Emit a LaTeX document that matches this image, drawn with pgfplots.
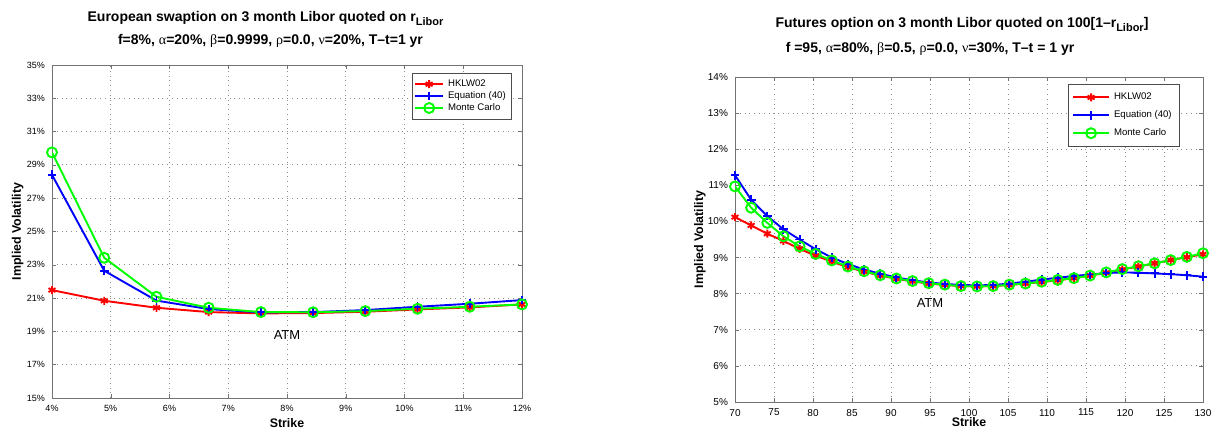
\documentclass[border=0pt]{standalone}
\usepackage{fontspec}
\setmainfont{Liberation Sans}
\newfontfamily\grk{Liberation Serif}
\usepackage{pgfplots}
\pgfplotsset{compat=1.18}

% MATLAB-like look shared by both panels
\newcommand{\labfont}{\bfseries\fontsize{6.2}{7}\selectfont}
\pgfplotsset{
  matlab/.style={
    scale only axis,
    axis line style={black!55},
    tick style={black!55},
    major tick length=2pt,
    tick align=inside,
    grid=major,
    major grid style={dotted, black!45},
    /pgf/number format/assume math mode=true,
    legend cell align=left,
    legend style={draw=black!70, fill=white, inner sep=1pt,
      font=\fontsize{4.8}{5.5}\selectfont, anchor=north east},
  },
  hk/.style={red, line width=0.95pt, mark=asterisk, mark size=2pt, mark options={solid}},
  eq/.style={blue, line width=0.95pt, mark=+, mark size=2.2pt, mark options={solid}},
  mc/.style={green, line width=0.95pt, mark=o, mark size=2.5pt, mark options={solid}},
}

\begin{document}
\begin{tikzpicture}

% ---- left: European swaption
\begin{axis}[matlab,
  at={(26pt,17pt)}, anchor=south west,
  width=235pt, height=166.5pt,
  xmin=4, xmax=12, ymin=15, ymax=35,
  xtick={4,...,12}, ytick={15,17,...,35},
  xticklabel={\pgfmathprintnumber{\tick}\%},
  yticklabel={\pgfmathprintnumber{\tick}\%},
  tick label style={font=\fontsize{4.5}{5}\selectfont},
  xlabel={Strike}, ylabel={Implied Volatility},
  every axis x label/.style={at={(axis description cs:0.5,-0.075)}, anchor=center, font=\labfont},
  every axis y label/.style={at={(axis description cs:-0.073,0.5)}, rotate=90, anchor=center, font=\labfont},
  legend style={at={(0.979,0.976)}, row sep=-3pt},
  legend image code/.code={\draw[mark repeat=2,mark phase=2] plot coordinates {(0pt,0pt) (7pt,0pt) (14pt,0pt)};},
]
\addplot[hk] coordinates {(4,21.48) (4.889,20.84) (5.778,20.42) (6.667,20.16) (7.556,20.08) (8.444,20.10) (9.333,20.18) (10.222,20.32) (11.111,20.44) (12,20.62)};
\addplot[eq] coordinates {(4,28.4) (4.889,22.64) (5.778,20.85) (6.667,20.34) (7.556,20.14) (8.444,20.16) (9.333,20.28) (10.222,20.48) (11.111,20.66) (12,20.88)};
\addplot[mc] coordinates {(4,29.75) (4.889,23.42) (5.778,21.08) (6.667,20.42) (7.556,20.16) (8.444,20.15) (9.333,20.22) (10.222,20.36) (11.111,20.48) (12,20.62)};
\legend{HKLW02, Equation (40), Monte Carlo}
\node[font=\fontsize{6.5}{7}\selectfont] at (axis cs:8,18.8) {ATM};
\end{axis}

% ---- right: futures option
\begin{axis}[matlab,
  at={(367.5pt,15pt)}, anchor=south west,
  width=234pt, height=162.5pt,
  xmin=70, xmax=130, ymin=5, ymax=14,
  xtick={70,75,...,130}, ytick={5,...,14},
  yticklabel={\pgfmathprintnumber{\tick}\%},
  tick label style={font=\fontsize{5}{6}\selectfont},
  xlabel={Strike}, ylabel={Implied Volatility},
  every axis x label/.style={at={(axis description cs:0.5,-0.062)}, anchor=center, font=\labfont},
  every axis y label/.style={at={(axis description cs:-0.075,0.5)}, rotate=90, anchor=center, font=\labfont},
  legend style={at={(0.951,0.978)}, row sep=0pt, inner sep=2pt},
  legend image code/.code={\draw[mark repeat=2,mark phase=2] plot coordinates {(0pt,0pt) (9pt,0pt) (18pt,0pt)};},
]
\addplot[hk] coordinates {(70,10.12) (72.07,9.89) (74.14,9.66) (76.21,9.46) (78.28,9.24) (80.34,9.05) (82.41,8.89) (84.48,8.73) (86.55,8.61) (88.62,8.50) (90.69,8.41) (92.76,8.34) (94.83,8.28) (96.90,8.24) (98.97,8.21) (101.03,8.20) (103.10,8.21) (105.17,8.24) (107.24,8.28) (109.31,8.32) (111.38,8.37) (113.45,8.43) (115.52,8.50) (117.59,8.58) (119.66,8.67) (121.72,8.75) (123.79,8.84) (125.86,8.93) (127.93,9.01) (130,9.09)};
\addplot[eq] coordinates {(70,11.28) (72.07,10.60) (74.14,10.15) (76.21,9.78) (78.28,9.50) (80.34,9.23) (82.41,9.00) (84.48,8.82) (86.55,8.67) (88.62,8.55) (90.69,8.45) (92.76,8.37) (94.83,8.31) (96.90,8.27) (98.97,8.24) (101.03,8.23) (103.10,8.24) (105.17,8.28) (107.24,8.33) (109.31,8.39) (111.38,8.44) (113.45,8.49) (115.52,8.53) (117.59,8.57) (119.66,8.59) (121.72,8.58) (123.79,8.56) (125.86,8.54) (127.93,8.51) (130,8.47)};
\addplot[mc] coordinates {(70,10.97) (72.07,10.38) (74.14,9.96) (76.21,9.59) (78.28,9.31) (80.34,9.10) (82.41,8.92) (84.48,8.75) (86.55,8.62) (88.62,8.51) (90.69,8.42) (92.76,8.35) (94.83,8.29) (96.90,8.25) (98.97,8.21) (101.03,8.20) (103.10,8.21) (105.17,8.25) (107.24,8.28) (109.31,8.33) (111.38,8.38) (113.45,8.43) (115.52,8.50) (117.59,8.59) (119.66,8.68) (121.72,8.76) (123.79,8.84) (125.86,8.93) (127.93,9.02) (130,9.12)};
\legend{HKLW02, Equation (40), Monte Carlo}
\node[font=\fontsize{6.5}{7}\selectfont] at (axis cs:95,7.75) {ATM};
\end{axis}

% ---- titles
\node[anchor=base, font=\bfseries\fontsize{7}{8}\selectfont] at (132.75pt,205pt)
  {European swaption on 3 month Libor quoted on r\raisebox{-0.45ex}{\fontsize{5.5}{6}\selectfont Libor}};
\node[anchor=base, font=\bfseries\fontsize{7}{8}\selectfont] at (135.25pt,193.5pt)
  {f=8\%, {\grk\mdseries α}=20\%, {\grk\mdseries β}=0.9999, {\grk\mdseries ρ}=0.0, {\grk\mdseries ν}=20\%, T–t=1 yr};
\node[anchor=base, font=\bfseries\fontsize{7}{8}\selectfont] at (481pt,202pt)
  {Futures option on 3 month Libor quoted on 100[1–r\raisebox{-0.45ex}{\fontsize{5.5}{6}\selectfont Libor}]};
\node[anchor=base, font=\bfseries\fontsize{7}{8}\selectfont] at (465pt,189.5pt)
  {f =95, {\grk\mdseries α}=80\%, {\grk\mdseries β}=0.5, {\grk\mdseries ρ}=0.0, {\grk\mdseries ν}=30\%, T–t = 1 yr};

\pgfresetboundingbox
\path[use as bounding box] (0,0) rectangle (612.5pt,216pt);
\end{tikzpicture}
\end{document}
